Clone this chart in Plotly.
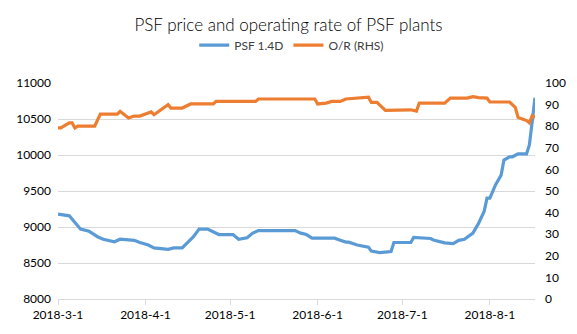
import datetime as dt
import plotly.graph_objects as go

# PSF 1.4D price (left axis)
psf_dates = ["2018-03-01","2018-03-05","2018-03-09","2018-03-12","2018-03-14","2018-03-15","2018-03-17",
             "2018-03-21","2018-03-23","2018-03-28","2018-03-30","2018-04-02","2018-04-04","2018-04-09",
             "2018-04-11","2018-04-14","2018-04-18","2018-04-20","2018-04-23","2018-04-26","2018-04-27",
             "2018-05-02","2018-05-04","2018-05-07","2018-05-09","2018-05-11","2018-05-24","2018-05-26",
             "2018-05-28","2018-05-30","2018-06-07","2018-06-09","2018-06-11","2018-06-12","2018-06-15",
             "2018-06-19","2018-06-20","2018-06-23","2018-06-27","2018-06-28","2018-07-04","2018-07-05",
             "2018-07-11","2018-07-12","2018-07-16","2018-07-19","2018-07-21","2018-07-23","2018-07-25",
             "2018-07-26","2018-07-28","2018-07-30","2018-07-31","2018-08-01","2018-08-03","2018-08-05",
             "2018-08-06","2018-08-08","2018-08-09","2018-08-11","2018-08-14","2018-08-15","2018-08-16",
             "2018-08-17"]
psf_values = [9180,9155,8970,8940,8890,8865,8830,
              8795,8830,8815,8785,8750,8710,8690,
              8710,8710,8865,8970,8970,8905,8895,
              8895,8830,8850,8915,8950,8950,8915,
              8895,8845,8845,8815,8790,8790,8750,
              8720,8665,8645,8660,8785,8785,8855,
              8840,8820,8780,8770,8815,8830,8880,
              8915,9050,9220,9400,9400,9585,9720,
              9930,9975,9975,10015,10015,10140,10460,
              10795]

# Operating rate (right axis, %)
or_dates = ["2018-03-01","2018-03-02","2018-03-05","2018-03-06","2018-03-07","2018-03-08","2018-03-14",
            "2018-03-16","2018-03-22","2018-03-23","2018-03-26","2018-03-28","2018-03-30","2018-04-03",
            "2018-04-04","2018-04-09","2018-04-10","2018-04-14","2018-04-17","2018-04-25","2018-04-26",
            "2018-05-10","2018-05-11","2018-05-31","2018-06-01","2018-06-04","2018-06-06","2018-06-09",
            "2018-06-11","2018-06-16","2018-06-19","2018-06-20","2018-06-22","2018-06-25","2018-07-02",
            "2018-07-04","2018-07-06","2018-07-07","2018-07-16","2018-07-18","2018-07-24","2018-07-26",
            "2018-07-28","2018-07-31","2018-08-01","2018-08-08","2018-08-10","2018-08-11","2018-08-12",
            "2018-08-14","2018-08-15","2018-08-16","2018-08-17"]
or_values = [79.2,79.2,81.5,81.5,79.2,80.0,80.0,
             85.6,85.6,86.9,83.8,84.7,84.7,86.6,
             85.3,90.0,88.4,88.4,90.3,90.3,91.5,
             91.5,92.6,92.6,90.3,90.7,91.5,91.5,
             92.6,92.9,93.4,91.0,91.0,87.3,87.3,
             87.6,87.0,90.7,90.7,93.0,93.0,93.7,
             93.2,93.0,91.2,91.2,88.7,84.1,83.6,
             82.6,81.5,84.8,84.2]

tick_dates = ["2018-03-01","2018-04-01","2018-05-01","2018-06-01","2018-07-01","2018-08-01"]
tick_labels = ["2018-3-1","2018-4-1","2018-5-1","2018-6-1","2018-7-1","2018-8-1"]
left_ticks = [8000,8500,9000,9500,10000,10500,11000]
right_ticks = [0,10,20,30,40,50,60,70,80,90,100]

FONT = "Lato"
fig = go.Figure()
fig.add_trace(go.Scatter(x=psf_dates, y=psf_values, name="PSF 1.4D", mode="lines",
                         line=dict(color="#5B9BD5", width=3.2)))
fig.add_trace(go.Scatter(x=or_dates, y=or_values, name="O/R (RHS)", mode="lines", yaxis="y2",
                         line=dict(color="#ED7D31", width=3.2)))

fig.update_layout(
    width=577, height=334,
    margin=dict(l=58, r=42, t=83, b=35),
    paper_bgcolor="white", plot_bgcolor="white",
    font=dict(family=FONT, size=12, color="#404040"),
    title=dict(text="PSF price and operating rate of PSF plants", x=0.5, xanchor="center",
               y=0.926, yanchor="middle",
               font=dict(family=FONT, size=17, color="#000000", weight=300)),
    showlegend=True,
    legend=dict(orientation="h", x=0.49, xanchor="center", y=1.175, yanchor="middle",
                font=dict(family=FONT, size=12, color="#404040"), itemwidth=30,
                bgcolor="rgba(0,0,0,0)"),
    xaxis=dict(type="date", range=["2018-03-01", "2018-08-17"], tickvals=tick_dates, ticktext=tick_labels,
               showgrid=False, showline=True, linecolor="#d9d9d9", linewidth=1,
               ticks="outside", ticklen=5, tickcolor="#d9d9d9", zeroline=False,
               tickfont=dict(family=FONT, size=12, color="#000000")),
    yaxis=dict(range=[8000, 11000], tickvals=left_ticks, ticktext=[str(v) for v in left_ticks],
               showgrid=True, gridcolor="#d9d9d9", ticklabelstandoff=6,
               gridwidth=1, zeroline=False, showline=False, ticks="",
               tickfont=dict(family=FONT, size=12, color="#000000")),
    yaxis2=dict(range=[0, 100], tickvals=right_ticks, overlaying="y", side="right",
                showgrid=False, zeroline=False, showline=False, ticks="", ticklabelstandoff=9,
                tickfont=dict(family=FONT, size=12, color="#000000")),
)

fig.write_html("out.html")
